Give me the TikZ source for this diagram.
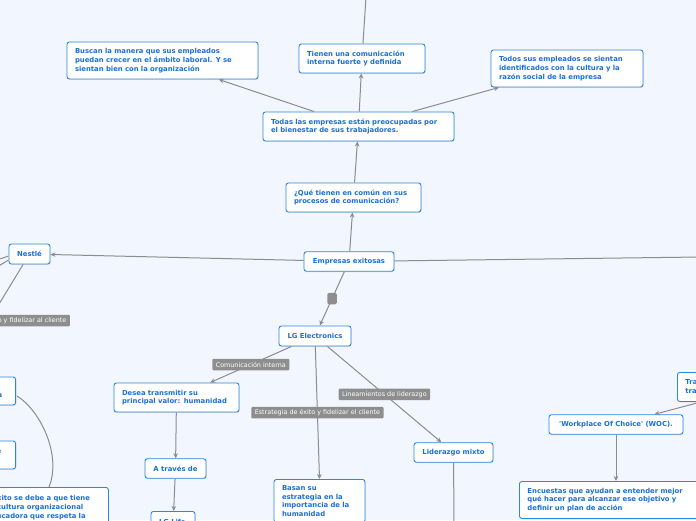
\documentclass[tikz,border=0pt]{standalone}
\usepackage{fontspec}
\newfontfamily\mapfont{DejaVu Sans}
\usepackage{tikz}
\usetikzlibrary{arrows.meta,calc,shadows}
\definecolor{canvas}{RGB}{242,246,254}
\definecolor{topicline}{RGB}{46,134,222}
\definecolor{topictext}{RGB}{26,112,214}
\definecolor{linkgrey}{RGB}{140,140,144}
\definecolor{taggrey}{RGB}{142,142,142}
\tikzstyle{arrow} = [draw=linkgrey, line width=1pt, -{Stealth[length=5pt,width=4.6pt]}]
\tikzstyle{link} = [draw=linkgrey, line width=1pt]
\tikzstyle{box} = [rectangle, rounded corners=2.5pt, draw=topicline, line width=0.9pt, fill=white,
  text=topictext, font={\mapfont\bfseries\fontsize{6.85}{8.7}\selectfont},
  inner xsep=8pt, inner ysep=0pt,
  drop shadow={shadow xshift=0.5pt, shadow yshift=-0.9pt, opacity=0.22}]
\tikzstyle{para} = [box, align=left]
\tikzstyle{single} = [box, align=center, minimum height=19.5pt]
\tikzstyle{tag} = [rectangle, rounded corners=1pt, fill=taggrey, text=white,
  font={\mapfont\fontsize{6.4}{7}\selectfont}, inner xsep=3.5pt, inner ysep=0pt, minimum height=11.5pt]
\tikzstyle{knob} = [rectangle, rounded corners=1.5pt, fill=taggrey, minimum width=9.5pt,
  minimum height=11.5pt, inner sep=0pt]

\begin{document}
\begin{tikzpicture}[x=1pt, y=-1pt]
    \useasboundingbox (0,0) rectangle (696,520);
    \fill [canvas] (0,0) rectangle (696,520);
    \clip (0,0) rectangle (696,520);

    \node [para, text width=110pt, minimum height=29pt] at (362,58.5) (tienen)
      {Tienen una comunicación\\
        interna fuerte y definida};
    \node [para, text width=175pt, minimum height=37pt] at (162.5,60.5) (buscan)
      {Buscan la manera que sus empleados\\
        puedan crecer en el ámbito laboral. Y se\\
        sientan bien con la organización};
    \node [para, text width=136pt, minimum height=37pt] at (567,68.5) (todos)
      {Todos sus empleados se sientan\\
        identificados con la cultura y la\\
        razón social de la empresa};
    \node [para, text width=175pt, minimum height=29pt] at (358.5,126.5) (todas)
      {Todas las empresas están preocupadas por\\
        el bienestar de sus trabajadores.};
    \node [para, text width=119pt, minimum height=29pt] at (353.5,197.5) (comun)
      {¿Qué tienen en común en sus\\
        procesos de comunicación?};
    \node [single, minimum width=90pt] at (349,261.5) (empresas) {Empresas exitosas};
    \node [single, minimum width=41pt, minimum height=20pt] at (29.5,254) (nestle) {Nestlé};
    \node [single, minimum width=72pt, minimum height=20pt] at (315,336) (lg) {LG Electronics};
    \node [para, text width=109pt, minimum height=29pt] at (176.5,397.5) (desea)
      {Desea transmitir su\\
        principal valor: humanidad};
    \node [single, minimum width=61pt] at (175.5,468.5) (atraves) {A través de};
    \node [para, anchor=north, text width=28pt, inner ysep=6pt, minimum height=29pt] at (173,511) (lglife)
      {LG Life\\
        Good};
    \node [para, anchor=north, text width=75pt, inner ysep=6pt] at (319.5,479) (basan)
      {Basan su\\
        estrategia en la\\
        importancia de la\\
        humanidad};
    \node [single, minimum width=79pt] at (453.5,452.5) (liderazgo) {Liderazgo mixto};
    \node [single, minimum width=134pt] at (616,424.5) (woc)
      {\textquotesingle Workplace Of Choice\textquotesingle{} (WOC).};
    \node [para, anchor=north west, text width=64pt, minimum height=29pt] at (677,372) (tra)
      {Trabajan para\\
        trabajo ideal};
    \node [para, anchor=north west, text width=172pt, minimum height=37pt] at (519,481) (encuestas)
      {Encuestas que ayudan a entender mejor\\
        qué hacer para alcanzar ese objetivo y\\
        definir un plan de acción};
    \node [para, anchor=east, text width=54.5pt, minimum height=28pt] at (16,391) (cultura)
      {Su cultura\\
        participativa};
    \node [para, anchor=east, text width=58pt, minimum height=28pt] at (16,455) (fideliza)
      {Estrategia de\\
        fidelización};
    \node [para, anchor=north west, text width=120pt, inner ysep=6pt, minimum height=40pt] at (-28,487) (exito)
      {Su éxito se debe a que tiene\\
        una cultura organizacional\\
        y educadora que respeta la};
    \node [tag, anchor=east] at (70,320.5) (tagnestle) {Estrategia de éxito y fidelizar al cliente};

    \coordinate (topend) at (366,-3);
    \coordinate (rightend) at (700,257);
    \coordinate (nestleA) at (-3,260);
    \coordinate (nestleB) at (-3,267);
    \coordinate (nestleC) at (-4,309);
    \coordinate (lidend) at (454,524);
    \coordinate (traend) at (697,403);

    \path [link] (topend) -- (tienen);
    \path [arrow] (todas) -- (tienen);
    \path [arrow] (todas) -- (buscan);
    \path [arrow] (todas) -- (todos);
    \path [arrow] (comun) -- (todas);
    \path [arrow] (empresas) -- (comun);
    \path [arrow] (empresas) -- (nestle);
    \path [link] (empresas) -- (rightend);
    \path [link] (nestleA) -- ($(nestle.west)+(0,2)$);
    \path [link] (nestleB) -- ($(nestle.west)+(0,6)$);
    \path [link] (nestle) -- (nestleC);
    \path [arrow] (empresas) -- node [knob] (knob) {} (lg);
    \path [arrow] (lg) -- node [tag] (tagcomun) {Comunicación interna} (desea);
    \path [arrow] (lg) -- node [tag] (tagestr) {Estrategia de éxito y fidelizar el cliente} (basan.north);
    \path [arrow] (lg) -- node [tag] (taglid) {Lineamientos de liderazgo} (liderazgo);
    \path [arrow] (desea) -- (atraves);
    \path [arrow] (atraves) -- (lglife);
    \path [link] (liderazgo) -- (lidend);
    \path [arrow] (traend) -- (woc);
    \path [arrow] (woc) -- (woc |- encuestas.north);
    \path [link] ($(cultura.east)+(1,5)$) .. controls (40,410) and (62,455) .. ($(exito.north west)+(77,0)$);
  \end{tikzpicture}
\end{document}
